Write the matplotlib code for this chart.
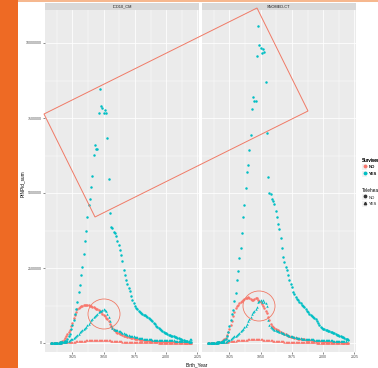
import matplotlib
matplotlib.use("Agg")
import matplotlib.pyplot as plt
from matplotlib.lines import Line2D
from matplotlib.patches import Polygon, Ellipse, Rectangle
from matplotlib.ticker import FixedLocator, FixedFormatter

plt.rcParams['font.family'] = ['Liberation Sans', 'DejaVu Sans']

# ---------------- data (values in millions, birth years 1908-2020) ----------------
years = list(range(1908, 2021))
facets = ["ICD10_CM", "SNOMED-CT"]
survived_levels = ["NO", "YES"]
telehealth_levels = ["NO", "YES"]
x_ticks = [1925, 1950, 1975, 2000, 2025]
y_ticks = [0, 2500000, 5000000, 7500000, 10000000]
y_tick_labels = ["0", "2500000", "5000000", "7500000", "10000000"]

# ICD10_CM
icd_yes_no = [
    0.00, 0.00, 0.00, 0.00, 0.01, 0.01, 0.01, 0.02, 0.02, 0.03,
    0.04, 0.06, 0.08, 0.12, 0.22, 0.30, 0.46, 0.60, 0.77, 0.96,
    1.12, 1.36, 1.70, 1.94, 2.28, 2.54, 2.97, 3.39, 3.72, 4.19,
    4.60, 4.80, 5.20, 5.57, 6.28, 6.59, 6.47, 6.47, 7.66, 8.47,
    7.91, 7.82, 7.68, 7.76, 7.66, 6.84, 5.48, 4.32, 3.87, 3.85,
    3.71, 3.67, 3.58, 3.40, 3.26, 3.10, 2.92, 2.72, 2.42, 2.28,
    2.10, 1.96, 1.84, 1.72, 1.56, 1.42, 1.32, 1.24, 1.17, 1.12,
    1.07, 1.03, 1.00, 0.97, 0.94, 0.92, 0.90, 0.87, 0.84, 0.81,
    0.77, 0.72, 0.67, 0.62, 0.57, 0.54, 0.50, 0.47, 0.44, 0.41,
    0.38, 0.35, 0.32, 0.30, 0.28, 0.26, 0.25, 0.23, 0.22, 0.20,
    0.19, 0.18, 0.16, 0.15, 0.13, 0.11, 0.09, 0.08, 0.07, 0.06,
    0.05, 0.04, 0.03]
icd_yes_yes = [
    0.00, 0.00, 0.00, 0.00, 0.00, 0.01, 0.01, 0.01, 0.01, 0.02,
    0.02, 0.03, 0.04, 0.06, 0.08, 0.11, 0.13, 0.15, 0.17, 0.19,
    0.22, 0.26, 0.31, 0.36, 0.40, 0.44, 0.47, 0.51, 0.55, 0.60,
    0.65, 0.71, 0.77, 0.81, 0.86, 0.89, 0.93, 0.97, 1.04, 1.08,
    1.06, 1.10, 1.12, 1.11, 1.08, 0.98, 0.86, 0.72, 0.58, 0.50,
    0.47, 0.45, 0.43, 0.42, 0.41, 0.39, 0.37, 0.35, 0.33, 0.31,
    0.30, 0.28, 0.27, 0.25, 0.24, 0.23, 0.22, 0.21, 0.20, 0.19,
    0.18, 0.17, 0.16, 0.16, 0.15, 0.14, 0.14, 0.13, 0.12, 0.12,
    0.12, 0.11, 0.11, 0.11, 0.10, 0.10, 0.10, 0.10, 0.10, 0.10,
    0.10, 0.10, 0.10, 0.09, 0.09, 0.09, 0.09, 0.09, 0.09, 0.08,
    0.08, 0.08, 0.08, 0.08, 0.08, 0.08, 0.07, 0.07, 0.07, 0.07,
    0.08, 0.12, 0.12]
icd_no_no = [
    0.00, 0.00, 0.00, 0.00, 0.01, 0.01, 0.01, 0.02, 0.03, 0.06,
    0.10, 0.16, 0.22, 0.29, 0.36, 0.45, 0.56, 0.68, 0.82, 0.95,
    1.05, 1.12, 1.17, 1.21, 1.23, 1.25, 1.26, 1.27, 1.27, 1.26,
    1.26, 1.25, 1.23, 1.21, 1.19, 1.17, 1.15, 1.13, 1.10, 1.06,
    1.02, 0.98, 0.94, 0.90, 0.85, 0.80, 0.72, 0.64, 0.57, 0.50,
    0.45, 0.42, 0.38, 0.35, 0.33, 0.31, 0.29, 0.27, 0.25, 0.24,
    0.22, 0.21, 0.20, 0.19, 0.18, 0.17, 0.16, 0.15, 0.14, 0.13,
    0.12, 0.11, 0.10, 0.10, 0.09, 0.09, 0.09, 0.08, 0.08, 0.08,
    0.07, 0.07, 0.07, 0.06, 0.06, 0.06, 0.05, 0.05, 0.05, 0.05,
    0.04, 0.04, 0.04, 0.04, 0.04, 0.03, 0.03, 0.03, 0.03, 0.03,
    0.02, 0.02, 0.02, 0.02, 0.02, 0.02, 0.02, 0.01, 0.01, 0.01,
    0.01, 0.01, 0.01]
icd_no_yes = [
    0.00, 0.00, 0.00, 0.00, 0.00, 0.01, 0.01, 0.01, 0.01, 0.02,
    0.02, 0.02, 0.03, 0.03, 0.03, 0.04, 0.04, 0.05, 0.05, 0.05,
    0.06, 0.06, 0.07, 0.07, 0.07, 0.08, 0.08, 0.08, 0.09, 0.09,
    0.09, 0.09, 0.10, 0.10, 0.10, 0.10, 0.10, 0.10, 0.10, 0.10,
    0.10, 0.10, 0.10, 0.10, 0.10, 0.09, 0.09, 0.09, 0.08, 0.08,
    0.08, 0.07, 0.07, 0.07, 0.06, 0.06, 0.06, 0.05, 0.05, 0.05,
    0.05, 0.04, 0.04, 0.04, 0.04, 0.04, 0.03, 0.03, 0.03, 0.03,
    0.03, 0.03, 0.03, 0.02, 0.02, 0.02, 0.02, 0.02, 0.02, 0.02,
    0.02, 0.02, 0.02, 0.02, 0.02, 0.02, 0.01, 0.01, 0.01, 0.01,
    0.01, 0.01, 0.01, 0.01, 0.01, 0.01, 0.01, 0.01, 0.01, 0.01,
    0.01, 0.01, 0.01, 0.01, 0.01, 0.01, 0.01, 0.01, 0.01, 0.01,
    0.01, 0.01, 0.01]

# SNOMED-CT
sno_yes_no = [
    0.00, 0.00, 0.00, 0.00, 0.01, 0.01, 0.01, 0.02, 0.02, 0.03,
    0.04, 0.05, 0.07, 0.09, 0.12, 0.23, 0.38, 0.57, 0.77, 0.96,
    1.10, 1.40, 1.68, 2.10, 2.40, 2.82, 3.16, 3.68, 4.20, 4.60,
    5.18, 5.70, 5.94, 6.44, 6.93, 7.81, 8.20, 8.08, 8.08, 9.57,
    10.58, 9.93, 9.82, 9.68, 9.80, 9.70, 8.71, 7.01, 5.53, 4.99,
    4.97, 4.79, 4.75, 4.63, 4.40, 4.21, 3.98, 3.81, 3.49, 3.16,
    2.88, 2.70, 2.54, 2.43, 2.27, 2.10, 1.98, 1.88, 1.71, 1.62,
    1.54, 1.48, 1.43, 1.38, 1.32, 1.27, 1.23, 1.19, 1.13, 1.08,
    1.03, 0.98, 0.93, 0.90, 0.87, 0.84, 0.80, 0.73, 0.66, 0.60,
    0.55, 0.50, 0.48, 0.46, 0.45, 0.43, 0.41, 0.39, 0.38, 0.36,
    0.34, 0.32, 0.30, 0.28, 0.26, 0.24, 0.23, 0.21, 0.19, 0.17,
    0.15, 0.12, 0.10]
sno_yes_yes = [
    0.00, 0.00, 0.00, 0.00, 0.00, 0.01, 0.01, 0.01, 0.01, 0.02,
    0.02, 0.03, 0.03, 0.04, 0.05, 0.07, 0.09, 0.11, 0.13, 0.16,
    0.19, 0.22, 0.25, 0.28, 0.31, 0.35, 0.39, 0.43, 0.48, 0.53,
    0.58, 0.64, 0.72, 0.80, 0.88, 0.96, 1.02, 1.08, 1.15, 1.21,
    1.36, 1.40, 1.43, 1.38, 1.43, 1.38, 1.32, 1.25, 0.78, 0.60,
    0.55, 0.50, 0.47, 0.45, 0.43, 0.41, 0.40, 0.38, 0.37, 0.35,
    0.33, 0.31, 0.30, 0.28, 0.26, 0.24, 0.23, 0.22, 0.21, 0.20,
    0.19, 0.18, 0.17, 0.16, 0.16, 0.15, 0.15, 0.14, 0.14, 0.13,
    0.13, 0.12, 0.12, 0.12, 0.12, 0.11, 0.11, 0.11, 0.11, 0.10,
    0.10, 0.10, 0.10, 0.10, 0.09, 0.09, 0.09, 0.09, 0.09, 0.09,
    0.08, 0.08, 0.08, 0.08, 0.08, 0.08, 0.08, 0.07, 0.07, 0.07,
    0.08, 0.12, 0.12]
sno_no_no = [
    0.00, 0.00, 0.00, 0.00, 0.00, 0.01, 0.01, 0.01, 0.02, 0.03,
    0.05, 0.08, 0.11, 0.14, 0.18, 0.26, 0.36, 0.48, 0.60, 0.72,
    0.90, 1.05, 1.16, 1.22, 1.28, 1.32, 1.36, 1.40, 1.44, 1.47,
    1.49, 1.51, 1.52, 1.50, 1.47, 1.45, 1.43, 1.46, 1.49, 1.50,
    1.45, 1.40, 1.36, 1.30, 1.24, 1.16, 1.08, 0.99, 0.88, 0.76,
    0.62, 0.56, 0.52, 0.50, 0.48, 0.45, 0.42, 0.40, 0.38, 0.35,
    0.33, 0.31, 0.29, 0.27, 0.25, 0.23, 0.21, 0.20, 0.19, 0.18,
    0.17, 0.16, 0.15, 0.14, 0.14, 0.13, 0.12, 0.12, 0.11, 0.11,
    0.10, 0.10, 0.09, 0.09, 0.08, 0.08, 0.07, 0.07, 0.07, 0.06,
    0.06, 0.06, 0.05, 0.05, 0.05, 0.04, 0.04, 0.04, 0.04, 0.03,
    0.03, 0.03, 0.03, 0.02, 0.02, 0.02, 0.02, 0.02, 0.01, 0.01,
    0.01, 0.01, 0.01]
sno_no_yes = [
    0.00, 0.00, 0.00, 0.00, 0.01, 0.01, 0.01, 0.01, 0.02, 0.02,
    0.02, 0.03, 0.03, 0.04, 0.04, 0.05, 0.05, 0.06, 0.06, 0.07,
    0.07, 0.08, 0.08, 0.09, 0.09, 0.10, 0.10, 0.10, 0.11, 0.11,
    0.11, 0.11, 0.12, 0.12, 0.12, 0.12, 0.12, 0.12, 0.12, 0.12,
    0.12, 0.12, 0.12, 0.12, 0.11, 0.11, 0.11, 0.10, 0.10, 0.10,
    0.09, 0.09, 0.08, 0.08, 0.08, 0.07, 0.07, 0.07, 0.06, 0.06,
    0.06, 0.05, 0.05, 0.05, 0.05, 0.04, 0.04, 0.04, 0.04, 0.03,
    0.03, 0.03, 0.03, 0.03, 0.03, 0.02, 0.02, 0.02, 0.02, 0.02,
    0.02, 0.02, 0.02, 0.02, 0.02, 0.02, 0.02, 0.01, 0.01, 0.01,
    0.01, 0.01, 0.01, 0.01, 0.01, 0.01, 0.01, 0.01, 0.01, 0.01,
    0.01, 0.01, 0.01, 0.01, 0.01, 0.01, 0.01, 0.01, 0.01, 0.01,
    0.01, 0.01, 0.01]

# series per facet: (survived, telehealth, values)
facet_series = {
    "ICD10_CM": [("NO", "NO", icd_no_no), ("NO", "YES", icd_no_yes),
                 ("YES", "NO", icd_yes_no), ("YES", "YES", icd_yes_yes)],
    "SNOMED-CT": [("NO", "NO", sno_no_no), ("NO", "YES", sno_no_yes),
                  ("YES", "NO", sno_yes_no), ("YES", "YES", sno_yes_yes)],
}

# ---------------- styling ----------------
W, H = 378, 368
COL = {"NO": "#F8766D", "YES": "#00BFC4"}
MARK = {"NO": "o", "YES": "^"}
PANEL_BG = "#EBEBEB"
STRIP_BG = "#D9D9D9"
TEXT_GREY = "#4D4D4D"

fig = plt.figure(figsize=(W / 100, H / 100), dpi=100)
fig.patch.set_facecolor("white")


def frect(x0, y0, x1, y1):
    """pixel box (top-left origin) -> figure fraction rect"""
    return [x0 / W, 1 - y1 / H, (x1 - x0) / W, (y1 - y0) / H]


panel_px = [(45, 199), (202, 356)]
axes = []
for i, (facet, (px0, px1)) in enumerate(zip(facets, panel_px)):
    ax = fig.add_axes(frect(px0, 10, px1, 352))
    ax.set_facecolor(PANEL_BG)
    for s in ax.spines.values():
        s.set_visible(False)
    ax.set_xlim(1903.2, 2026.2)
    ax.set_ylim(-0.3e6, 11.1e6)
    ax.xaxis.set_major_locator(FixedLocator(x_ticks))
    ax.xaxis.set_minor_locator(FixedLocator([t - 12.5 for t in x_ticks] + [x_ticks[-1] + 12.5]))
    ax.yaxis.set_major_locator(FixedLocator(y_ticks))
    ax.yaxis.set_minor_locator(FixedLocator([t + 1250000 for t in y_ticks]))
    ax.grid(True, which="major", color="white", lw=0.55)
    ax.grid(True, which="minor", color="white", lw=0.3)
    ax.set_axisbelow(True)
    ax.tick_params(axis="both", which="major", length=1.2, width=0.4, color="#333333",
                   labelsize=2.6, labelcolor=TEXT_GREY, pad=0.8)
    ax.tick_params(axis="both", which="minor", length=0)
    ax.set_xticklabels([str(t) for t in x_ticks])
    if i == 0:
        ax.yaxis.set_major_formatter(FixedFormatter(y_tick_labels))
    else:
        ax.tick_params(axis="y", which="major", length=0, labelleft=False)
    for surv, tele, vals in facet_series[facet]:
        ax.scatter(years, [v * 1e6 for v in vals], s=3.2, marker=MARK[tele],
                   color=COL[surv], linewidths=0, zorder=3)
    axes.append(ax)

    # strip
    sax = fig.add_axes(frect(px0, 3, px1, 10))
    sax.set_facecolor(STRIP_BG)
    for s in sax.spines.values():
        s.set_visible(False)
    sax.set_xticks([])
    sax.set_yticks([])
    sax.text(0.5, 0.45, facet, ha="center", va="center", fontsize=2.8,
             color="#1A1A1A", transform=sax.transAxes)

# axis titles
fig.text(22 / W, 1 - 184 / H, "PtNPid_sum", rotation=90, ha="center", va="center",
         fontsize=3.4, color="black")
fig.text(197 / W, 1 - 365 / H, "Birth_Year", ha="center", va="center",
         fontsize=3.4, color="black")

# legends (cut by the right edge, as in the reference)
KEY_BG = "#F2F2F2"


def key(color, marker):
    return (Rectangle((0, 0), 1, 1, facecolor=KEY_BG, edgecolor="none"),
            Line2D([], [], ls="", marker=marker, markersize=1.7, color=color))


surv_handles = [key(COL[s], "o") for s in survived_levels]
tele_handles = [key("#333333", MARK[t]) for t in telehealth_levels]
leg_kw = dict(loc="upper left", frameon=False, fontsize=3.0, title_fontsize=3.4,
              handlelength=1.2, handleheight=1.6, handletextpad=0.5, labelspacing=0.35,
              borderpad=0, borderaxespad=0, alignment="left")
leg1 = fig.legend(surv_handles, survived_levels, title="Survived",
                  bbox_to_anchor=(362 / W, 1 - 158 / H), **leg_kw)
fig.add_artist(leg1)
leg2 = fig.legend(tele_handles, telehealth_levels, title="Telehealth",
                  bbox_to_anchor=(362 / W, 1 - 188 / H), **leg_kw)
for leg in (leg1, leg2):
    for t in leg.get_texts():
        t.set_color("#1A1A1A")

# ---------------- annotations overlay ----------------
ANN = "#F07A66"
rect_px = [(44, 114), (257, 8), (308, 111), (95, 217)]
fig.add_artist(Polygon([(x / W, 1 - y / H) for x, y in rect_px], closed=True, fill=False,
                       edgecolor=ANN, lw=0.7, transform=fig.transFigure))
for cx, cy in [(104, 314), (259, 306)]:
    fig.add_artist(Ellipse((cx / W, 1 - cy / H), 32 / W, 30 / H, fill=False,
                           edgecolor=ANN, lw=0.6, transform=fig.transFigure))

# orange side bar and thin top line
fig.add_artist(Rectangle((0, 0), 18 / W, 1, facecolor="#EE6A24", edgecolor="none",
                         transform=fig.transFigure))
fig.add_artist(Rectangle((18 / W, 1 - 1.5 / H), 1, 1.5 / H, facecolor="#F6B88F",
                         edgecolor="none", transform=fig.transFigure))

fig.savefig("out.png", dpi=100)
